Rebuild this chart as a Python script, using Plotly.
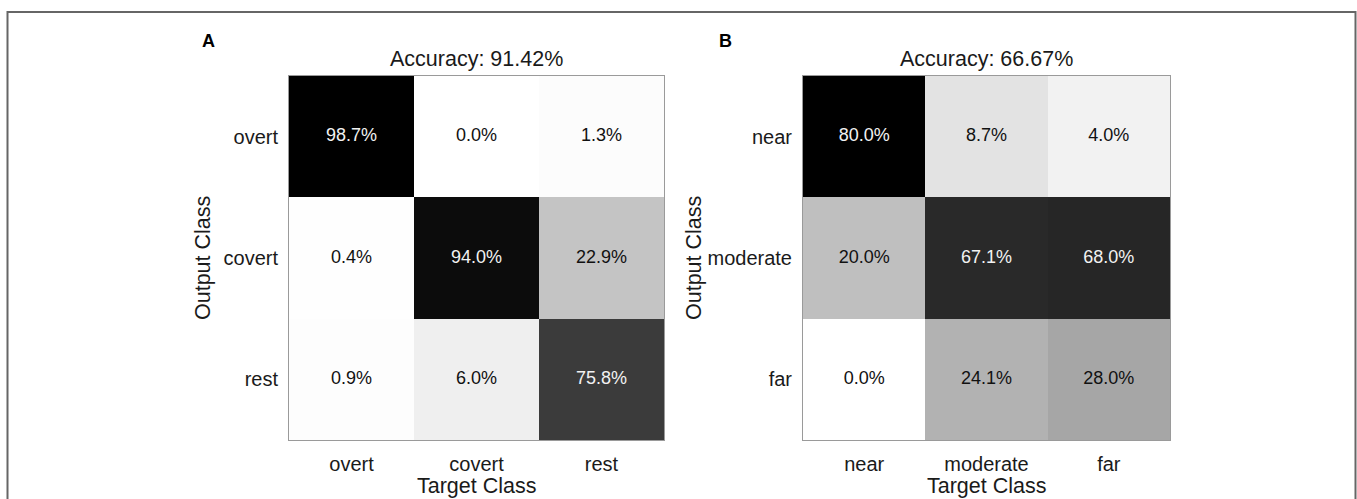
import plotly.graph_objects as go

W, H = 1357, 499

# ---------------- data ----------------
classes_a = ["overt", "covert", "rest"]
values_a = [
    [98.7, 0.0, 1.3],
    [0.4, 94.0, 22.9],
    [0.9, 6.0, 75.8],
]
accuracy_a = 91.42

classes_b = ["near", "moderate", "far"]
values_b = [
    [80.0, 8.7, 4.0],
    [20.0, 67.1, 68.0],
    [0.0, 24.1, 28.0],
]
accuracy_b = 66.67

FONT = "Liberation Sans, Arial, sans-serif"
TXT = "#1a1a1a"

def px_x(p):
    return p / W

def px_y(p):
    return 1 - p / H

fig = go.Figure()

panels = [
    ("A", classes_a, values_a, accuracy_a, "x", "y", (289, 664)),
    ("B", classes_b, values_b, accuracy_b, "x2", "y2", (803, 1170)),
]

top, bottom = 76, 440

for label, cls, vals, acc, xa, ya, (l, r) in panels:
    vmax = max(max(row) for row in vals)
    fig.add_trace(go.Heatmap(
        z=vals, x=cls, y=cls, xaxis=xa, yaxis=ya,
        colorscale=[[0, "#ffffff"], [1, "#000000"]],
        zmin=0, zmax=vmax, showscale=False, hoverinfo="skip",
    ))
    xs, ys, ts, cs = [], [], [], []
    for i, rc in enumerate(cls):
        for j, cc in enumerate(cls):
            xs.append(cc)
            ys.append(rc)
            ts.append(f"{vals[i][j]:.1f}%")
            cs.append("#f2f2f2" if vals[i][j] / vmax > 0.5 else "#111111")
    fig.add_trace(go.Scatter(
        x=xs, y=ys, xaxis=xa, yaxis=ya, mode="text", text=ts,
        textfont=dict(family=FONT, size=18, color=cs),
        hoverinfo="skip", showlegend=False,
    ))
    cx = (l + r) / 2 / W
    # subplot title
    fig.add_annotation(x=cx, y=px_y(59), xref="paper", yref="paper",
                       text=f"Accuracy: {acc:.2f}%", showarrow=False,
                       font=dict(family=FONT, size=21.5, color=TXT),
                       xanchor="center", yanchor="middle")
    # x axis title
    fig.add_annotation(x=cx, y=0, xref="paper", yref="paper",
                       text="Target Class", showarrow=False,
                       font=dict(family=FONT, size=21.5, color=TXT),
                       xanchor="center", yanchor="bottom", borderpad=0)
    # panel label
    fig.add_annotation(x=px_x(l - 89 if label == "A" else l - 86), y=px_y(41),
                       xref="paper", yref="paper",
                       text=f"<b>{label}</b>", showarrow=False,
                       font=dict(family=FONT, size=18, color="#000"),
                       xanchor="left", yanchor="middle")

# y axis titles
fig.add_annotation(x=px_x(203), y=px_y(258), xref="paper", yref="paper",
                   text="Output Class", textangle=-90, showarrow=False,
                   font=dict(family=FONT, size=21.5, color=TXT),
                   xanchor="center", yanchor="middle")
fig.add_annotation(x=px_x(694), y=px_y(258), xref="paper", yref="paper",
                   text="Output Class", textangle=-90, showarrow=False,
                   font=dict(family=FONT, size=21.5, color=TXT),
                   xanchor="center", yanchor="middle")

axis_common = dict(showgrid=False, zeroline=False, ticks="", showline=True,
                   linecolor="#9a9a9a", linewidth=1, mirror=True,
                   tickfont=dict(family=FONT, size=20, color=TXT),
                   type="category", fixedrange=True)

fig.update_layout(
    width=W, height=H,
    margin=dict(l=0, r=0, t=0, b=0),
    paper_bgcolor="white", plot_bgcolor="white",
    showlegend=False,
    xaxis=dict(domain=[px_x(289), px_x(664)], anchor="y",
               ticklabelstandoff=6, **axis_common),
    yaxis=dict(domain=[px_y(bottom), px_y(top)], anchor="x",
               autorange="reversed", ticklabelstandoff=6, **axis_common),
    xaxis2=dict(domain=[px_x(803), px_x(1170)], anchor="y2",
                ticklabelstandoff=6, **axis_common),
    yaxis2=dict(domain=[px_y(bottom), px_y(top)], anchor="x2",
                autorange="reversed", ticklabelstandoff=6, **axis_common),
    shapes=[dict(type="rect", xref="paper", yref="paper",
                 x0=px_x(7.5), x1=px_x(1355.5), y0=-0.2, y1=px_y(12),
                 line=dict(color="#666666", width=2), fillcolor="rgba(0,0,0,0)",
                 layer="below")],
)

fig.write_html("out.html")
